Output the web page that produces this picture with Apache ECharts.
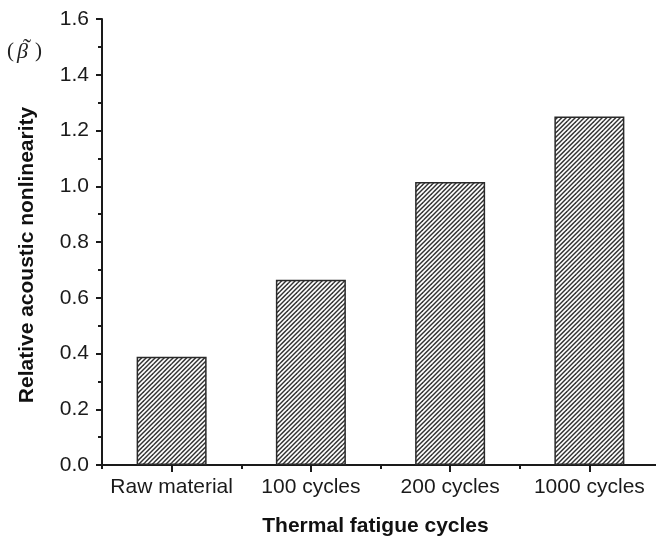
<!DOCTYPE html>
<html>
<head>
<meta charset="utf-8">
<script src="https://cdn.jsdelivr.net/npm/echarts@6/dist/echarts.min.js"></script>
<style>
  html, body { margin: 0; padding: 0; background: #fff; }
  #chart { width: 656px; height: 538px; }
</style>
</head>
<body>
<div id="chart"></div>
<script>
// Relative acoustic nonlinearity after thermal fatigue cycling
var categories = ['Raw material', '100 cycles', '200 cycles', '1000 cycles'];
var betaValues = [0.388, 0.665, 1.015, 1.25];
var yTicks = { min: 0, max: 1.6, step: 0.2 };

// diagonal "/" hatch tile
function hatchTile() {
  var size = 9, period = 4.5;
  var c = document.createElement('canvas');
  c.width = size; c.height = size;
  var ctx = c.getContext('2d');
  ctx.fillStyle = '#ffffff';
  ctx.fillRect(0, 0, size, size);
  ctx.strokeStyle = '#333333';
  ctx.lineWidth = 1.5;
  for (var k = -2; k <= 6; k++) {
    var x0 = k * period;
    ctx.beginPath();
    ctx.moveTo(x0 - size - 1, size + 1);
    ctx.lineTo(x0 + 1, -1);
    ctx.stroke();
  }
  return c;
}

var axisColor = '#1a1a1a';
var font = '"Liberation Sans", Arial, sans-serif';
var serif = '"Liberation Serif", "DejaVu Serif", serif';

var chart = echarts.init(document.getElementById('chart'), null, { renderer: 'canvas' });
chart.setOption({
  animation: false,
  backgroundColor: '#ffffff',
  grid: { left: 102, top: 19, width: 557, height: 446, containLabel: false, outerBoundsMode: 'none' },
  xAxis: [{
    type: 'category',
    data: categories,
    boundaryGap: true,
    axisLine: { show: true, lineStyle: { color: axisColor, width: 2 } },
    axisTick: { show: true, alignWithLabel: true, length: 7, lineStyle: { color: axisColor, width: 2 } },
    axisLabel: { interval: 0, hideOverlap: false, color: '#1a1a1a', fontFamily: font, fontSize: 21, margin: 12 },
    splitLine: { show: false },
    name: 'Thermal fatigue cycles',
    nameLocation: 'middle',
    nameGap: 51,
    nameTextStyle: { color: '#111', fontFamily: font, fontSize: 21, fontWeight: 'bold', padding: [0, 10, 0, 0] }
  }, {
    type: 'category',
    data: categories,
    position: 'bottom',
    boundaryGap: true,
    axisLine: { show: false },
    axisTick: { show: true, interval: 0, alignWithLabel: false, length: 4, lineStyle: { color: axisColor, width: 2 } },
    axisLabel: { show: false },
    splitLine: { show: false }
  }],
  yAxis: {
    type: 'value',
    min: yTicks.min,
    max: yTicks.max,
    interval: yTicks.step,
    axisLine: { show: true, lineStyle: { color: axisColor, width: 2 } },
    axisTick: { show: true, length: 6, lineStyle: { color: axisColor, width: 2 } },
    minorTick: { show: true, splitNumber: 2, length: 4, lineStyle: { color: axisColor, width: 2 } },
    axisLabel: {
      color: '#1a1a1a', fontFamily: font, fontSize: 21, margin: 13,
      formatter: function (v) { return v.toFixed(1); }
    },
    splitLine: { show: false },
    name: 'Relative acoustic nonlinearity',
    nameLocation: 'middle',
    nameGap: 64,
    nameRotate: 90,
    nameTextStyle: { color: '#111', fontFamily: font, fontSize: 21, fontWeight: 'bold', padding: [0, 26, 0, 0] }
  },
  graphic: [
    { type: 'text', left: 7, top: 41, style: { text: '(', font: '21px ' + serif, fill: '#222' } },
    { type: 'text', left: 17, top: 41, style: { text: '\u03B2', font: 'italic 22px ' + serif, fill: '#222' } },
    { type: 'text', left: 23, top: 37, style: { text: '\u02DC', font: '24px ' + serif, fill: '#222' } },
    { type: 'text', left: 35, top: 41, style: { text: ')', font: '21px ' + serif, fill: '#222' } }
  ],
  series: [{
    type: 'bar',
    data: betaValues,
    barWidth: 70,
    itemStyle: {
      color: { image: hatchTile(), repeat: 'repeat' },
      borderColor: '#2a2a2a',
      borderWidth: 1.5
    }
  }]
});
</script>
</body>
</html>
